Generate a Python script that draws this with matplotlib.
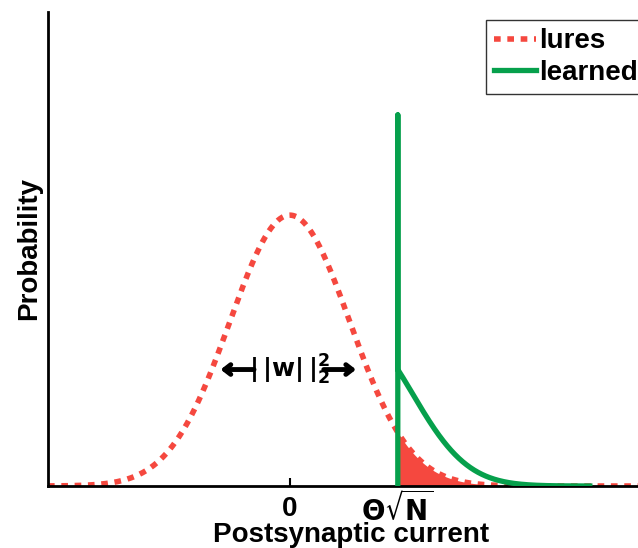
import numpy as np
import matplotlib.pyplot as plt
import matplotlib.transforms as mtransforms

plt.rcParams['font.family'] = ['Liberation Sans', 'DejaVu Sans']
plt.rcParams['font.weight'] = 'bold'

# parámetros (unidades de la desviación estándar de los señuelos)
lure_mean = 0.0
lure_sd = 1.0
theta = 1.8            # umbral Θ√N
learned_jump = 0.43    # altura de la distribución aprendida en el umbral (rel. al pico)
learned_a = 0.8        # caída lineal
learned_b = 0.6        # caída cuadrática
learned_end = 5.0
spike_height = 1.37

xticks = [0, theta]
xticklabels = ['0', r'$\mathbf{\Theta}\sqrt{\mathbf{N}}$']

red = '#f5483f'
green = '#06a04c'

x = np.linspace(-4.03, 6.2, 800)
lures = np.exp(-(x - lure_mean)**2 / (2 * lure_sd**2))

xl = np.linspace(theta, learned_end, 300)
d = xl - theta
learned = learned_jump * np.exp(-learned_a * d - learned_b * d**2)

fig = plt.figure(figsize=(6.38, 5.48), dpi=100)
ax = fig.add_axes([48/638, 62/548, (660-48)/638, (486-12)/548])

mask = x >= theta
ax.fill_between(x[mask], 0, lures[mask], color=red, lw=0, zorder=1)
ax.plot(x, lures, color=red, lw=4, ls=(0, (1.2, 1.2)), dash_capstyle='butt',
        label='lures', zorder=2)
ax.plot(np.r_[theta, theta, xl], np.r_[0, spike_height, learned], color=green,
        lw=3.8, label='learned', zorder=3)

ax.set_xlim(-4.03, 6.17)
ax.set_ylim(0, 1.75)
ax.spines['top'].set_visible(False)
ax.spines['right'].set_visible(False)
for s in ('left', 'bottom'):
    ax.spines[s].set_linewidth(2)
ax.set_yticks([])
ax.tick_params(axis='x', direction='in', length=6, width=1.5, pad=4)
ax.set_xticks(xticks)
ax.set_xticklabels(xticklabels, fontsize=20, fontweight='bold')
# bajar el "0" para que comparta línea base con Θ√N
lbl0 = ax.xaxis.get_major_ticks()[0].label1
lbl0.set_transform(lbl0.get_transform() +
                   mtransforms.ScaledTranslation(0, -3.5/72, fig.dpi_scale_trans))
ax.set_xlabel('Postsynaptic current', fontsize=20, fontweight='bold')
ax.xaxis.set_label_coords(0.495, -0.077)
ax.set_ylabel('Probability', fontsize=20, fontweight='bold', labelpad=4)

# flechas del ancho
ax.text(lure_mean, 0.43, r'$|\,|\mathbf{w}|\,|_2^2$', fontsize=18, ha='center',
        va='center', fontweight='normal')
arrow = dict(arrowstyle='->,head_length=0.45,head_width=0.35', color='black', lw=3.5)
ax.annotate('', xy=(-1.2, 0.43), xytext=(-0.55, 0.43), arrowprops=arrow)
ax.annotate('', xy=(1.15, 0.43), xytext=(0.52, 0.43), arrowprops=arrow)

leg = ax.legend(loc='upper left', bbox_to_anchor=(486/638, 1 - 20/548),
                bbox_transform=fig.transFigure, fontsize=20, fancybox=False,
                edgecolor='black', handlelength=1.5, borderaxespad=0,
                handletextpad=0.12, labelspacing=0.2, borderpad=0.3)
leg.get_frame().set_linewidth(1)
for t in leg.get_texts():
    t.set_fontweight('bold')

fig.savefig('out.png', dpi=100)
